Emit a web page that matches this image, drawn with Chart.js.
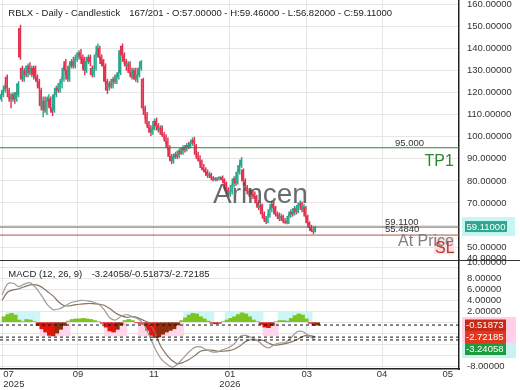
<!DOCTYPE html>
<html><head><meta charset="utf-8">
<script src="https://cdn.jsdelivr.net/npm/chart.js@4/dist/chart.umd.min.js"></script>
<style>html,body{margin:0;padding:0;background:#fff;overflow:hidden}</style>
</head><body><canvas id="c" width="520" height="390"></canvas>
<script>
const symbol = "RBLX", period = "Daily", chartType = "Candlestick";
const barInfo = "167/201";
const opens = [117,119,121,127,121,118,117,119,117,119,149,131,126,130,128,132,129,131,131,127,125,121,113,116,112,116,117,113,112,119,122,121,124,126,134,130,126,132,134,132,135,137,138,136,135,130,134,136,131,128,131,137,140,136,134.5,132,125,122,124,123,126,125,127,129,141,137,134,132,133,129,127,130,126,128,131,126,113,110,106,104,102,103.5,107,105,103,104,101,100,98,95,91,89,90.5,92,91,93.5,92.5,95,94,96,95.5,97,98.5,96,92,90,89,86,85,84,82.5,83,81.5,80.5,81,80.8,81.2,81.5,80.5,79,76,74,75,78,81,79,84,87,85,80,77,75.5,74,75,74,73,70,68,69,65,63,61.5,64,67,69.5,68,65,64.5,63,64,62,61.5,61,64,66,65,67.5,66,69,70,67,68,64,61,59,57.5,57];
const highs = [120,122,124,128,122,119.5,120,120,121,125,150.5,132,131,132,133,133.5,132,132,132,128,126,122,118,118,117,119,118,114.5,120,123,124,125,127,132,135,131,133,135,136,136,138,139,139.5,137,136,135,137,137,132,132,138,142,141,137,135,133,126,125,126,127,128,128,130,140.5,142,138,135,134,134,131,131,131,129,132,134.5,126.5,114,111,107,105,104.5,108,108.5,106,105,105,102,101,99.5,96,92,92.3,93,93.5,94.5,95,96,96,97,97.5,98,99.5,99.8,96.5,93,91.5,89.5,87.5,86,85,84,83.5,82,81.5,81.5,82,82,82.3,81,79.5,77,76,78.5,82,82,85,88,90.6,85.5,81,78,76.5,76,76,75,73.5,71,70,69.5,66,64,65,68,71,70.5,68.5,66,65.5,65,64.5,63,62,65,67,67.5,68.5,68,70,71,70.5,69.5,68.5,64.5,61.5,60,58.5,59.46];
const lows = [116,118,120,121,116,113,116,115,116,118,135,125,125,127,127,128,127,126,126,123,121,112,109,111,110,114,112,109.5,111,118,120,120,122,125,128,125,125,131,131,131,134,135,135,131,128,129,133,132,127,127,130,136,135,132,131,124,119.5,121,122,122,124,124,126,128,135,133,130,129,128,126,126,125,124.5,127,130,112,108,105,102,100.5,101,103,104,102,101,100,99,97,94,89.5,87.7,88,90,90,90.5,92,92,93,93.5,94.5,95,96,96,91,89,87.5,85,84,82.5,81.5,81.5,80.5,80,80,80,80.3,80.5,80,78,75,73,73,74,77,78,78.5,83,86,79,76,74.5,73,73.5,72,72,69,67,66,64,62,60.6,61,63.5,66,67,64,63,62,62,61,60.8,60.5,60.6,63.5,64,64.5,65,65.5,68,66,66,63,60,58,57,56,56.82];
const closes = [119,121,123,122,118,117,119,117,120,124,136,126,130,128,132,129,131,128,127,125,122,114,117,112,116,118,113,111,119,122,121,124,126,131,130,126,132,134,132,135,137,138,136,133,130,134,136,134,128,131,137,141,136,133,132,125,121,124,123,126,125,127,129,139,137,134,132,133,129,127,130,126,128,131,134,113,110,106,104,102,103.5,107,105,103,104,101,100.5,98,95,91,89,91,92,91,93.5,92.5,95,94,96,95.5,97,98.5,97,92,90,89,86,85,84,82.5,83,81.5,80.5,81,80.8,81.2,81.5,80.5,79,76,74,75,78,81,79,84,87,89.5,80,77,75.5,74,75,74,73,70,68,69,65,63,61.5,64,67,69.5,68,65,64.5,63,64,62,61.5,61,64,66,65,67.5,66,69,70,67,68.5,64,61,59,57.5,57,59.11];

const priceTicks = [50,60,70,80,90,100,110,120,130,140,150,160];
const macdTicks = [10,8,6,4,2,0,-2,-4,-6,-8];
const monthTickIdx = [0.37,40.2,80.4,120.6,161.2,201.1,241.3];
const monthLabels = [["07","2025"],["09",""],["11",""],["01","2026"],["03",""],["04",""],["05",""]];

const macdIdx = [0,3,6,9,12,15,18,21,24,27,30,33,36,39,42,45,48,51,54,57,60,63,66,69,72,75,78,81,84,87,90,93,96,99,102,105,108,111,114,117,120,123,126,129,132,135,138,141,144,147,150,153,156,159,162,165,166];
const macdLine = [5.0,7.0,7.1,6.5,7.0,7.2,6.2,4.8,3.2,2.3,2.4,2.9,3.5,3.8,4.0,3.9,3.7,3.3,2.3,0.8,0.4,1.1,1.4,1.0,0.6,-0.4,-2.5,-4.8,-6.6,-7.6,-8.2,-7.6,-6.5,-5.4,-4.6,-4.5,-5.0,-5.4,-5.4,-5.0,-4.6,-3.9,-2.6,-2.4,-2.8,-3.3,-4.2,-4.7,-4.1,-3.8,-3.7,-2.8,-1.8,-1.7,-2.4,-3.1,-3.24058];
const signalLine = [4.0,5.5,5.9,6.1,6.5,6.8,6.8,6.4,5.6,4.8,3.7,3.0,3.0,3.2,3.3,3.4,3.4,3.3,3.1,2.5,1.7,1.2,0.9,1.0,0.8,0.3,-0.2,-2.0,-4.4,-5.9,-7.0,-7.6,-7.3,-6.8,-6.1,-5.3,-5.1,-5.1,-5.3,-5.3,-5.2,-4.9,-4.3,-3.5,-3.2,-3.3,-3.3,-3.8,-4.2,-4.1,-3.9,-3.6,-3.2,-2.6,-2.4,-2.6,-2.72185];
const histIdx = [0,2,4,6,8,10,12,14,16,18,20,22,24,26,28,30,32,34,36,38,40,42,44,46,48,50,52,54,56,58,60,62,64,66,68,70,72,74,76,78,80,82,84,86,88,90,92,94,96,98,100,102,104,106,108,110,112,114,116,118,120,122,124,126,128,130,132,134,136,138,140,142,144,146,148,150,152,154,156,158,160,162,164,166];
const histVals = [1.0,1.4,1.6,1.3,0.4,0.1,0.5,0.4,0.1,-0.6,-1.2,-1.8,-2.4,-2.5,-2.0,-1.3,-0.6,0.2,0.5,0.6,0.6,0.7,0.6,0.5,0.3,0.1,-0.2,-0.9,-1.6,-1.8,-1.3,-0.5,0.3,0.5,0.3,-0.1,-0.2,-0.4,-1.5,-2.4,-2.8,-2.7,-2.2,-1.8,-1.5,-1.2,-0.5,0.3,0.8,1.3,1.6,1.5,1.0,0.6,0.2,-0.2,-0.3,-0.2,0.1,0.4,0.7,1.0,1.4,1.7,1.5,1.0,0.4,0.1,-0.4,-0.9,-1.0,-0.6,0.1,0.3,0.3,0.2,0.7,1.2,1.5,1.3,0.6,-0.2,-0.6,-0.51873];

const tpLevel = 95.0, priceLevel = 59.11, slLevel = 55.484;
const macdLast = -3.24058, histLast = -0.51873, signalLast = -2.72185;

const FONT = '"Liberation Sans", Arial, sans-serif';
const X_MIN = -1.058, X_MAX = 241.8;
const UP = '#2aa68c', DOWN = '#e3324f';
const N = closes.length;

const shade = [];
{
  let k = 0;
  while (k < histVals.length) {
    const s = Math.sign(histVals[k]); let j = k, mx = 0;
    while (j < histVals.length && Math.sign(histVals[j]) === s) { mx = Math.max(mx, Math.abs(histVals[j])); j++; }
    if (mx >= 1.0) for (let t = k; t < j; t++) shade.push({x: histIdx[t], y: s > 0 ? [0, 1.8] : [0, -2.5]});
    k = j;
  }
}
const histColor = (i) => {
  const v = histVals[i], p = i > 0 ? histVals[i-1] : v;
  if (v >= 0) return '#7cc520';
  return v <= p ? '#e0150c' : '#8e2e0e';
};
const hline = (v) => [{x: X_MIN, y: v}, {x: X_MAX, y: v}];
const idx = [...Array(N).keys()];

const overlay = {
  id: 'overlay',
  afterDatasetsDraw(chart) {
    const {ctx} = chart;
    ctx.save();
    ctx.font = '28px ' + FONT; ctx.fillStyle = 'rgba(70,70,70,0.8)'; ctx.textAlign = 'left'; ctx.textBaseline = 'alphabetic';
    ctx.fillText('Arincen', 213, 203);
    ctx.restore();
  },
  afterDraw(chart) {
    const {ctx, scales: {x, y, y2}} = chart;
    ctx.save();
    ctx.strokeStyle = '#333'; ctx.lineWidth = 1.2;
    ctx.beginPath(); ctx.moveTo(0, y.bottom + 0.5); ctx.lineTo(520, y.bottom + 0.5); ctx.stroke();
    const f = '9.5px ' + FONT;
    ctx.font = f; ctx.fillStyle = '#222'; ctx.textAlign = 'left'; ctx.textBaseline = 'alphabetic';
    const L = N - 1;
    ctx.fillText(`${symbol} - ${period} - ${chartType}`, 8.3, 15.7);
    ctx.fillText(`${barInfo} - O:${opens[L].toFixed(5)} - H:${highs[L].toFixed(5)} - L:${lows[L].toFixed(5)} - C:${closes[L].toFixed(5)}`, 129.3, 15.7);
    ctx.fillText('MACD (12, 26, 9)', 8.3, 276.7);
    ctx.fillText(`${macdLast.toFixed(5)}/${histLast.toFixed(5)}/${signalLast.toFixed(5)}`, 91.7, 276.7);
    ctx.fillStyle = '#333';
    ctx.fillText(tpLevel.toFixed(3), 395, y.getPixelForValue(tpLevel) - 2);
    ctx.fillText(priceLevel.toFixed(4), 385, y.getPixelForValue(priceLevel) - 2.5);
    ctx.fillText(slLevel.toFixed(4), 385, y.getPixelForValue(slLevel) - 3);
    ctx.font = '16px ' + FONT;
    ctx.fillStyle = '#2a8a2a'; ctx.fillText('TP1', 424.5, 165.7);
    ctx.fillStyle = 'rgba(255,215,225,0.8)'; ctx.fillRect(434, 237, 20, 17);
    ctx.fillStyle = '#7f7f7f'; ctx.fillText('At Price', 398, 246);
    ctx.fillStyle = '#b33a2a'; ctx.fillText('SL', 435, 252.7);
    ctx.font = f; ctx.fillStyle = '#333'; ctx.textBaseline = 'middle';
    ctx.fillText((40).toFixed(5), 467, 258);
    ctx.fillText((10).toFixed(5), 467, 262);
    const py = y.getPixelForValue(priceLevel);
    ctx.fillStyle = '#c8f5f3'; ctx.fillRect(462, py - 10, 53, 19);
    ctx.fillStyle = '#2ea88c'; ctx.fillRect(465, py - 6, 42, 11);
    ctx.fillStyle = '#fff'; ctx.fillText(priceLevel.toFixed(5), 466.5, py);
    ctx.fillStyle = '#ffd0e6'; ctx.fillRect(462, 317, 54, 28);
    ctx.fillStyle = '#c9f3f3'; ctx.fillRect(462, 343, 54, 15);
    ctx.fillStyle = '#c92a18'; ctx.fillRect(465, 319.5, 41, 11.5);
    ctx.fillStyle = '#e3381e'; ctx.fillRect(465, 331, 41, 12);
    ctx.fillStyle = '#1d9c3f'; ctx.fillRect(465, 343, 41, 12);
    ctx.fillStyle = '#fff';
    ctx.fillText(histLast.toFixed(5), 466, 325.5);
    ctx.fillText(signalLast.toFixed(5), 466, 337.2);
    ctx.fillText(macdLast.toFixed(5), 466, 349.2);
    ctx.fillStyle = '#333';
    monthTickIdx.forEach((v, k) => {
      const cx = x.getPixelForValue(v);
      monthLabels[k].forEach((t, r) => {
        if (!t) return;
        const w = ctx.measureText(t).width;
        let lx = Math.max(cx - w / 2, 3.3);
        lx = Math.min(lx, 453 - w);
        ctx.fillText(t, lx, r === 0 ? 374.7 : 384.3);
      });
    });
    ctx.restore();
  }
};

const tickFont = {family: FONT, size: 9.5};
const fitRight = s => { s.width = 61; s.paddingTop = 0; s.paddingBottom = 0; };
new Chart(document.getElementById('c'), {
  type: 'bar',
  data: {
    datasets: [
      {type: 'line', yAxisID: 'y', data: hline(tpLevel), borderColor: '#2a8a2a', borderWidth: 1, pointRadius: 0, order: 1},
      {type: 'line', yAxisID: 'y', data: hline(priceLevel), borderColor: '#6b5d55', borderWidth: 1, pointRadius: 0, order: 1},
      {type: 'line', yAxisID: 'y', data: hline(slLevel), borderColor: '#a8583a', borderWidth: 1, pointRadius: 0, order: 1},
      {yAxisID: 'y', data: idx.map(i => ({x: i, y: [Math.min(opens[i], closes[i]), Math.max(opens[i], closes[i])]})),
        backgroundColor: c => closes[c.dataIndex] >= opens[c.dataIndex] ? UP : DOWN, barThickness: 1.3, minBarLength: 1, order: 2},
      {yAxisID: 'y', data: idx.map(i => ({x: i, y: [lows[i], highs[i]]})),
        backgroundColor: c => closes[c.dataIndex] >= opens[c.dataIndex] ? UP : DOWN, barThickness: 0.8, order: 3},
      ...[histLast, signalLast, macdLast].map(v => ({type: 'line', yAxisID: 'y2', data: hline(v), borderColor: '#111', borderWidth: 1, borderDash: [3, 3], pointRadius: 0, order: 4})),
      {type: 'line', yAxisID: 'y2', data: macdIdx.map((v, k) => ({x: v, y: macdLine[k]})), borderColor: '#9b9b9b', borderWidth: 1.2, pointRadius: 0, tension: 0.3, order: 5},
      {type: 'line', yAxisID: 'y2', data: macdIdx.map((v, k) => ({x: v, y: signalLine[k]})), borderColor: '#8a755e', borderWidth: 1.2, pointRadius: 0, tension: 0.3, order: 5},
      {yAxisID: 'y2', data: histIdx.map((v, k) => ({x: v, y: histVals[k]})), backgroundColor: c => histColor(c.dataIndex), barThickness: 3.9, order: 6},
      {yAxisID: 'y2', data: shade, backgroundColor: c => shade[c.dataIndex].y[1] > 0 ? '#cdf6f6' : '#ffd6ea', barThickness: 3.9, order: 7}
    ]
  },
  options: {
    responsive: false, animation: false, devicePixelRatio: 1,
    layout: {padding: {left: 0, top: 0, right: 0, bottom: 21}},
    plugins: {legend: {display: false}, tooltip: {enabled: false}},
    scales: {
      x: {type: 'linear', min: X_MIN, max: X_MAX, offset: false,
        grid: {color: '#e6e6e6', drawTicks: false, offset: false},
        border: {display: true, color: '#222', width: 1.5},
        ticks: {display: false},
        afterBuildTicks: s => { s.ticks = monthTickIdx.map(v => ({value: v})); },
        afterFit: s => { s.height = 0; s.paddingLeft = 0; s.paddingRight = 0; }},
      y: {position: 'right', stack: 'p', stackWeight: 260, min: 44.2, max: 161.85,
        grid: {color: '#e6e6e6', drawTicks: false},
        border: {display: true, color: '#222', width: 1.5},
        ticks: {font: tickFont, color: '#333', padding: 8, autoSkip: false, callback: v => v.toFixed(5)},
        afterBuildTicks: s => { s.ticks = priceTicks.map(v => ({value: v})); },
        afterFit: fitRight},
      y2: {position: 'right', stack: 'p', stackWeight: 109, min: -8.54, max: 11.35,
        grid: {color: '#e6e6e6', drawTicks: false},
        border: {display: true, color: '#222', width: 1.5},
        ticks: {font: tickFont, color: '#333', padding: 8, autoSkip: false, callback: v => v === 10 ? '' : v.toFixed(5)},
        afterBuildTicks: s => { s.ticks = macdTicks.map(v => ({value: v})); },
        afterFit: fitRight}
    }
  },
  plugins: [overlay]
});
</script></body></html>
